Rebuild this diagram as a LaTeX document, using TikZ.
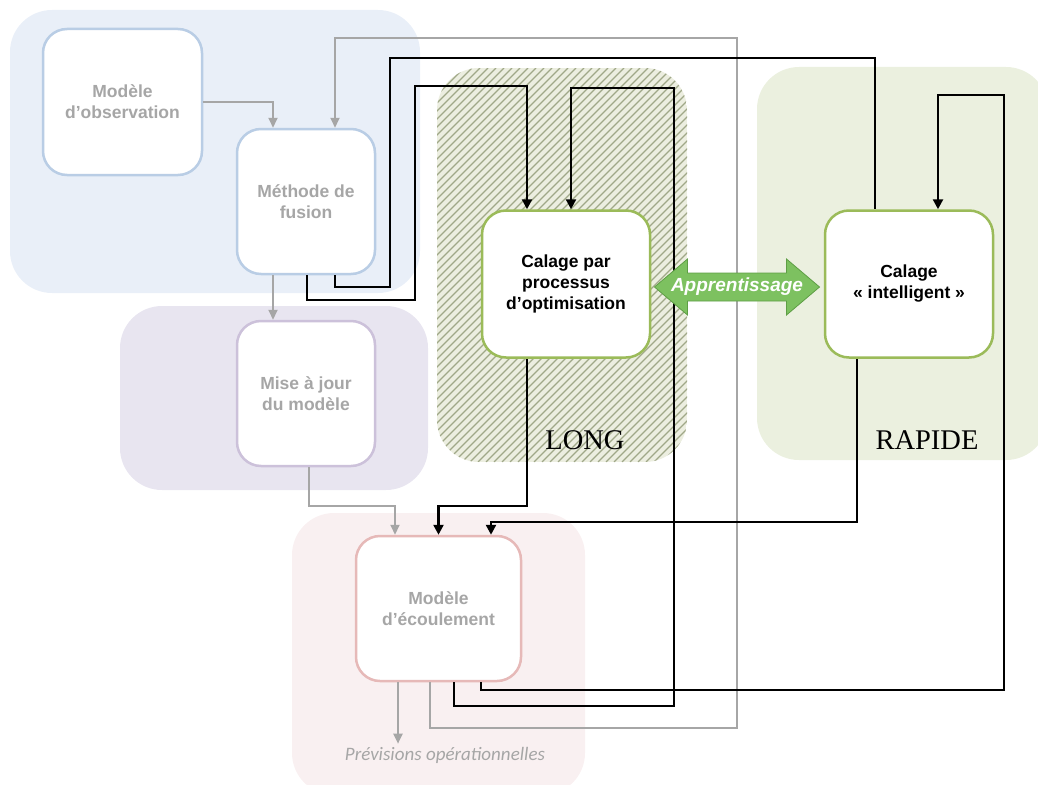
\documentclass[tikz,border=0pt]{standalone}
\usepackage{fontspec}
\setmainfont{Liberation Sans}
\newfontfamily\timesfont{Liberation Serif}
\newfontfamily\calibfont{Carlito}
\usetikzlibrary{arrows.meta,calc}

\definecolor{bgblue}{HTML}{E9EFF8}
\definecolor{bgpurple}{HTML}{E8E5F0}
\definecolor{bghatch}{HTML}{ECEEE0}
\definecolor{hatchline}{HTML}{A0A888}
\definecolor{bggreen}{HTML}{EBF0DF}
\definecolor{bgpink}{HTML}{F9F0F1}
\definecolor{lblue}{HTML}{B9CDE5}
\definecolor{lpurple}{HTML}{CCC1DA}
\definecolor{lpink}{HTML}{E6B9B8}
\definecolor{lgreen}{HTML}{9BBB59}
\definecolor{lgray}{HTML}{A6A6A6}
\definecolor{arrfill}{HTML}{7DC160}
\definecolor{arrdraw}{HTML}{5E9E45}

\begin{document}
\begin{tikzpicture}[x=1pt, y=-1pt,
  zone/.style={rounded corners=42pt},
  box/.style={draw, line width=2.5pt, fill=white, rounded corners=24pt, align=center,
    inner sep=0pt, font=\bfseries\fontsize{17.5}{21}\selectfont},
  gbox/.style={box, text=lgray},
  label/.style={font=\timesfont\fontsize{28.5}{32}\selectfont},
  garrow/.style={draw=lgray, line width=2pt, -{Triangle[length=10pt,width=9pt]}},
  gline/.style={draw=lgray, line width=2pt},
  barrow/.style={line width=2.4pt, -{Triangle[length=10pt,width=10pt]}},
  bline/.style={line width=2.4pt}
]
  \clip (0,0) rectangle (1038,784);

  % zones
  \fill[bgblue, zone] (10,10) rectangle (420,293);
  \fill[bgpurple, zone] (120,306) rectangle (428,490);
  \begin{scope}
    \clip[zone] (437,68) rectangle (687,462);
    \fill[bghatch] (437,68) rectangle (687,462);
    \foreach \c in {500,508,...,1160}
      \draw[hatchline, line width=1.3pt] (\c-462,462) -- (\c-68,68);
  \end{scope}
  \fill[bggreen, zone] (757,67) rectangle (1048,460);
  \fill[bgpink, zone] (292,513) rectangle (585,795);

  \node[label] (long) at (585,440) {LONG};
  \node[label] (rapide) at (927,440) {RAPIDE};

  % boxes
  \node[gbox, draw=lblue, minimum width=159pt, minimum height=146pt] (obs) at (122.5,102) {Modèle\\d’observation};
  \node[gbox, draw=lblue, minimum width=138pt, minimum height=145pt] (fus) at (306,201.5) {Méthode de\\fusion};
  \node[gbox, draw=lpurple, minimum width=138pt, minimum height=145pt] (maj) at (306,393.5) {Mise à jour\\du modèle};
  \node[box, draw=lgreen, minimum width=168pt, minimum height=147pt] (opt) at (566,284) {Calage par\\processus\\d’optimisation};
  \node[box, draw=lgreen, minimum width=168pt, minimum height=147pt] (intel) at (909,284) {Calage\\« intelligent »};
  \node[gbox, draw=lpink, minimum width=165pt, minimum height=145pt] (ecoul) at (438.5,608.5) {Modèle\\d’écoulement};
  \node[text=lgray, inner sep=3pt, font=\calibfont\itshape\fontsize{19}{21}\selectfont] (prev) at (445,755) {Prévisions opérationnelles};

  % gray links
  \draw[garrow] (obs.east) -| ([xshift=-33]fus.north);
  \draw[garrow] ([xshift=-33]fus.south) -- ([xshift=-33]maj.north);
  \draw[garrow] ([xshift=3]maj.south) -- ++(0,39) -| ([xshift=-43.5]ecoul.north);
  \draw[garrow] ([xshift=-40.5]ecoul.south) -- ([xshift=-40.5]ecoul.south |- prev.north);
  \draw[garrow] ([xshift=-8.5]ecoul.south) -- ++(0,46) -| (737,38) -| ([xshift=29]fus.north);

  % black links
  \draw[bline] ([xshift=29]fus.south) -- ++(0,12) -| (390,58) -| ([xshift=-34]intel.north);
  \draw[barrow] ([xshift=1]fus.south) -- ++(0,25) -| (415,86) -| ([xshift=-39]opt.north);
  \draw[barrow] ([xshift=-39]opt.south) -- ++(0,147) -| (ecoul.north);
  \draw[barrow] ([xshift=15.5]ecoul.south) -- ++(0,24) -| (674,88) -| ([xshift=5]opt.north);
  \draw[barrow] ([xshift=-52]intel.south) -- ++(0,163) -| ([xshift=52.5]ecoul.north);
  \draw[barrow] ([xshift=42.5]ecoul.south) -- ++(0,8) -| (1004,95) -| ([xshift=29]intel.north);

  % learning arrow
  \coordinate (apprc) at (737,287);
  \draw[fill=arrfill, draw=arrdraw, line width=0.8pt] ($(apprc)+(-82.5,0)$) -- ++(33,-28) -- ++(0,14)
    -- ++(99,0) -- ++(0,-14) -- ++(33,28) -- ++(-33,28) -- ++(0,-14) -- ++(-99,0) -- ++(0,14) -- cycle;
  \node[text=white, font=\bfseries\itshape\fontsize{19}{21}\selectfont] (appr) at (apprc) {Apprentissage};
\end{tikzpicture}
\end{document}
